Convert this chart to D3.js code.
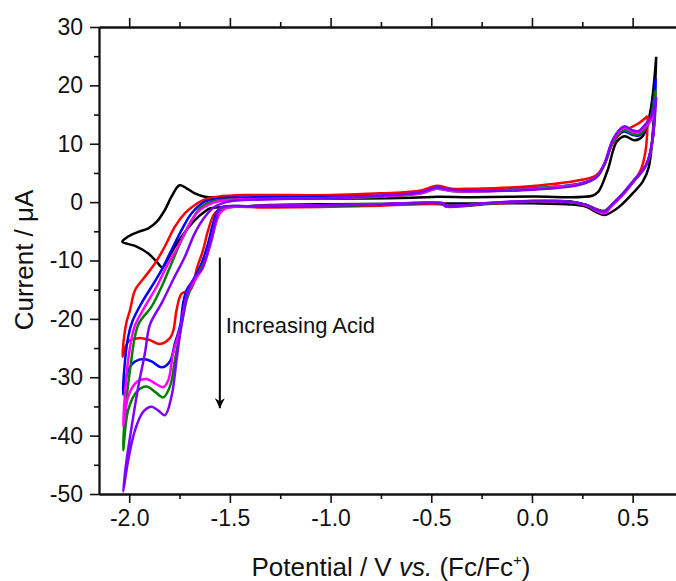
<!DOCTYPE html>
<html>
<head>
<meta charset="utf-8">
<script src="https://cdn.jsdelivr.net/npm/d3@7"></script>
<style>
  body { margin: 0; background: #fff; }
  svg { display: block; font-family: "Liberation Sans", Arial, sans-serif; }
</style>
</head>
<body>
<div id="chart"></div>
<script>
// potential (V vs Fc/Fc+) and current (uA), in scan order
var blackCV = [
  [0.617, 24.9], [0.60, 12], [0.58, 6], [0.55, 3.5], [0.50, 1.5], [0.44, -0.6], [0.40, -1.6], [0.36, -2.2],
  [0.32, -1.7], [0.27, -0.8], [0.20, -0.4], [0.0, -0.2], [-0.45, -0.25], [-1.0, -0.35], [-1.3, -0.5],
  [-1.475, -0.8], [-1.56, -0.9], [-1.6, -1.1], [-1.624, -1.6], [-1.674, -3.07], [-1.723, -5.1], [-1.773, -7.6],
  [-1.815, -10.2], [-1.835, -11.2], [-1.864, -10.2], [-1.905, -8.8], [-1.971, -7.5], [-2.034, -6.8],
  [-2.005, -5.9], [-1.955, -5.1], [-1.905, -4.5], [-1.864, -3.4], [-1.823, -1.35], [-1.79, 0.93], [-1.75, 2.9],
  [-1.715, 2.36], [-1.674, 1.5], [-1.624, 0.93], [-1.558, 0.8], [-1.2, 0.6], [-0.6, 0.75], [-0.47, 0.9],
  [-0.3, 0.85], [0.0, 0.95], [0.30, 1.1], [0.33, 1.8], [0.376, 5.5], [0.42, 10.3], [0.46, 11.3], [0.51, 10.6],
  [0.55, 11.3], [0.585, 15], [0.617, 24.9]
];
var redCV = [
  [0.575, 14.75], [0.565, 9], [0.54, 5.5], [0.50, 3.3], [0.45, 1.2], [0.40, -0.4], [0.36, -1.5], [0.32, -1.2],
  [0.27, -0.5], [0.19, 0.1], [0.0, 0.1], [-0.2, -0.3], [-0.43, -0.75], [-0.44, -0.45], [-0.75, -0.6],
  [-1.0, -0.8], [-1.327, -0.9], [-1.459, -0.8], [-1.525, -0.9], [-1.575, -1.9], [-1.608, -4.8], [-1.633, -8.2],
  [-1.666, -11.6], [-1.68, -13.9], [-1.699, -15.1], [-1.74, -15.7], [-1.765, -18.5], [-1.78, -21.9],
  [-1.798, -23.3], [-1.848, -24.3], [-1.90, -23.6], [-1.955, -23.3], [-2.005, -23.9], [-2.033, -26.5],
  [-2.025, -23], [-2.013, -20.5], [-1.996, -18.5], [-1.971, -15.1], [-1.922, -12.8], [-1.872, -10.5],
  [-1.823, -7.6], [-1.773, -4.2], [-1.723, -1.9], [-1.674, -0.5], [-1.624, 0.47], [-1.558, 0.93], [-1.426, 1.2],
  [-1.0, 1.2], [-0.75, 1.5], [-0.55, 2.0], [-0.475, 2.8], [-0.40, 2.3], [-0.30, 2.3], [-0.06, 2.6], [0.24, 3.8],
  [0.32, 4.6], [0.36, 6.5], [0.40, 10.0], [0.44, 11.8], [0.48, 12.6], [0.53, 13.5], [0.575, 14.75]
];
var blueCV = [
  [0.614, 21.2], [0.60, 11], [0.575, 7], [0.551, 5.4], [0.50, 3.4], [0.452, 1.4], [0.40, -0.4], [0.36, -1.6],
  [0.32, -1.3], [0.27, -0.5], [0.19, 0.1], [0.0, 0.2], [-0.2, -0.2], [-0.43, -0.6], [-0.44, -0.25],
  [-0.75, -0.4], [-1.0, -0.6], [-1.4, -0.7], [-1.533, -0.8], [-1.558, -1.3], [-1.583, -3.6], [-1.608, -7.0],
  [-1.641, -10.5], [-1.682, -13.3], [-1.715, -15.1], [-1.732, -17.3], [-1.746, -21], [-1.773, -24.2],
  [-1.798, -27.3], [-1.839, -28.3], [-1.889, -27.3], [-1.922, -26.9], [-1.971, -27.3], [-2.005, -28.8],
  [-2.03, -33.0], [-2.022, -27.6], [-2.005, -23.05], [-1.985, -20.5], [-1.939, -17.3], [-1.889, -14.5],
  [-1.839, -11.6], [-1.79, -8.2], [-1.74, -4.8], [-1.69, -1.9], [-1.624, 0.08], [-1.541, 0.65], [-1.426, 0.8],
  [-1.0, 0.9], [-0.75, 1.1], [-0.55, 1.6], [-0.475, 2.4], [-0.40, 2.0], [-0.30, 1.9], [-0.06, 2.2], [0.24, 3.2],
  [0.32, 4.3], [0.36, 6.5], [0.40, 10.2], [0.44, 11.9], [0.46, 12.1], [0.50, 11.5], [0.53, 11.4], [0.56, 12.3],
  [0.59, 14.5], [0.614, 21.2]
];
var greenCV = [
  [0.614, 19.2], [0.60, 11], [0.575, 7], [0.551, 5.5], [0.50, 3.5], [0.452, 1.5], [0.40, -0.3], [0.36, -1.5],
  [0.32, -1.2], [0.27, -0.5], [0.19, 0.0], [0.0, 0.15], [-0.2, -0.2], [-0.43, -0.6], [-0.44, -0.25],
  [-0.75, -0.45], [-1.0, -0.6], [-1.4, -0.7], [-1.541, -1.2], [-1.566, -3.1], [-1.591, -6.5], [-1.624, -9.9],
  [-1.657, -12.2], [-1.69, -14.5], [-1.715, -16.8], [-1.74, -21], [-1.773, -27.05], [-1.798, -31.6],
  [-1.831, -33.45], [-1.872, -32.5], [-1.914, -31.6], [-1.963, -32.5], [-2.005, -35.6], [-2.03, -42.5],
  [-2.02, -36.2], [-1.996, -28.8], [-1.955, -21], [-1.889, -17.9], [-1.839, -14.5], [-1.79, -10.5],
  [-1.74, -6.5], [-1.69, -3.1], [-1.641, -0.8], [-1.575, 0.25], [-1.475, 0.5], [-1.0, 0.6], [-0.75, 0.9],
  [-0.55, 1.5], [-0.475, 2.3], [-0.40, 1.9], [-0.30, 1.8], [-0.06, 2.2], [0.24, 3.1], [0.32, 4.2], [0.36, 6.4],
  [0.40, 10.2], [0.44, 12.0], [0.46, 12.3], [0.50, 11.7], [0.53, 11.6], [0.56, 12.5], [0.59, 14.5], [0.614, 19.2]
];
var magentaCV = [
  [0.61, 16.5], [0.60, 11], [0.575, 7], [0.551, 5.5], [0.50, 3.4], [0.452, 1.3], [0.40, -0.5], [0.36, -1.9],
  [0.32, -1.5], [0.27, -0.6], [0.19, 0.0], [0.0, 0.2], [-0.2, -0.1], [-0.43, -0.6], [-0.44, -0.2],
  [-0.75, -0.35], [-1.0, -0.5], [-1.4, -0.7], [-1.517, -1.0], [-1.55, -1.9], [-1.575, -4.2], [-1.6, -7.6],
  [-1.633, -11.1], [-1.674, -13.4], [-1.707, -15.4], [-1.727, -18.0], [-1.745, -21.5], [-1.782, -25.9],
  [-1.806, -30.5], [-1.831, -31.7], [-1.872, -31.05], [-1.914, -30.3], [-1.963, -30.8], [-2.005, -33.3],
  [-2.03, -38.5], [-2.022, -33.3], [-2.005, -27.05], [-1.975, -21.5], [-1.922, -17.9], [-1.864, -14.5],
  [-1.815, -11.1], [-1.757, -7.6], [-1.707, -4.2], [-1.657, -1.6], [-1.591, -0.2], [-1.508, 0.36],
  [-1.376, 0.5], [-1.0, 0.7], [-0.75, 1.0], [-0.55, 1.5], [-0.475, 2.3], [-0.40, 1.9], [-0.30, 1.8],
  [-0.06, 2.1], [0.24, 3.1], [0.32, 4.3], [0.36, 6.6], [0.40, 10.5], [0.44, 12.4], [0.46, 12.8], [0.50, 12.1],
  [0.53, 12.0], [0.56, 12.8], [0.59, 14.0], [0.61, 16.5]
];
var purpleCV = [
  [0.617, 18], [0.60, 11], [0.575, 7], [0.551, 5.5], [0.50, 3.5], [0.452, 1.5], [0.40, -0.3], [0.36, -1.6],
  [0.32, -1.3], [0.27, -0.5], [0.19, 0.0], [0.0, 0.2], [-0.2, -0.1], [-0.43, -0.6], [-0.44, -0.25],
  [-0.75, -0.4], [-1.0, -0.55], [-1.4, -0.7], [-1.55, -1.0], [-1.566, -2.5], [-1.583, -4.8], [-1.608, -8.2],
  [-1.641, -11.6], [-1.674, -12.8], [-1.707, -15.1], [-1.727, -18.5], [-1.745, -22], [-1.765, -27.05],
  [-1.79, -33.3], [-1.823, -36.5], [-1.856, -35.7], [-1.889, -35.05], [-1.93, -35.9], [-1.971, -39.05],
  [-2.005, -44.2], [-2.03, -49.6], [-2.013, -44.2], [-1.988, -38.5], [-1.955, -31.6], [-1.922, -25.9],
  [-1.897, -21], [-1.839, -17.3], [-1.782, -13.3], [-1.723, -9.3], [-1.674, -5.3], [-1.624, -2.5],
  [-1.575, -0.8], [-1.508, 0.08], [-1.426, 0.36], [-1.0, 0.7], [-0.75, 1.1], [-0.55, 1.7], [-0.475, 2.5],
  [-0.40, 2.1], [-0.30, 2.0], [-0.06, 2.0], [0.24, 3.0], [0.32, 4.3], [0.36, 6.6], [0.40, 10.6], [0.44, 12.6],
  [0.46, 13.0], [0.50, 12.3], [0.53, 12.2], [0.56, 13.2], [0.59, 14.5], [0.617, 18]
];

var seriesNames = ["black", "red", "blue", "green", "magenta", "purple"];
var seriesData = [blackCV, redCV, blueCV, greenCV, magentaCV, purpleCV];
var seriesColors = ["#000000", "#ff0000", "#0000ff", "#008000", "#ff00ff", "#8000ff"];

var xMajor = [-2.0, -1.5, -1.0, -0.5, 0.0, 0.5];
var xMinor = [-1.75, -1.25, -0.75, -0.25, 0.25];
var yMajor = [-50, -40, -30, -20, -10, 0, 10, 20, 30];
var yMinor = [-45, -35, -25, -15, -5, 5, 15, 25];

var W = 676, H = 581;
var margin = {left: 99, top: 27};
var plotRight = 683, plotBottom = 494;

var svg = d3.select("#chart").append("svg")
    .attr("width", W)
    .attr("height", H);

var x = d3.scaleLinear().domain([-2.15, 0.75]).range([margin.left, plotRight]);
var y = d3.scaleLinear().domain([-50, 30]).range([plotBottom, margin.top]);

// curves
var line = d3.line()
    .x(d => x(d[0]))
    .y(d => y(d[1]))
    .curve(d3.curveCatmullRom.alpha(0.5));

svg.append("g")
    .selectAll("path")
    .data(seriesData)
    .join("path")
    .attr("class", (d, i) => "cv " + seriesNames[i])
    .attr("d", line)
    .attr("fill", "none")
    .attr("stroke", (d, i) => seriesColors[i])
    .attr("stroke-width", 2.5)
    .attr("stroke-linejoin", "round");

// axes
function styleAxis(g) {
    g.selectAll(".domain").attr("stroke", "#111").attr("stroke-width", 1.8);
    g.selectAll(".tick line").attr("stroke", "#111").attr("stroke-width", 1.6);
    g.selectAll("text").attr("fill", "#111").style("font-size", "23px")
        .style("font-family", '"Liberation Sans", Arial, sans-serif');
}

var xBottom = svg.append("g")
    .attr("transform", "translate(0," + plotBottom + ")")
    .call(d3.axisBottom(x).tickValues(xMajor).tickSizeInner(9).tickSizeOuter(0).tickPadding(7)
        .tickFormat(d3.format(".1f")))
    .call(styleAxis);
xBottom.selectAll("text").text(d => d3.format(".1f")(d).replace("\u2212", "-"));

svg.append("g")
    .attr("transform", "translate(0," + plotBottom + ")")
    .call(d3.axisBottom(x).tickValues(xMinor).tickSizeInner(5).tickSizeOuter(0).tickFormat(""))
    .call(styleAxis);

svg.append("g")
    .attr("transform", "translate(0," + margin.top + ")")
    .call(d3.axisTop(x).tickValues(xMajor).tickSizeInner(9).tickSizeOuter(0).tickFormat(""))
    .call(styleAxis);

svg.append("g")
    .attr("transform", "translate(0," + margin.top + ")")
    .call(d3.axisTop(x).tickValues(xMinor).tickSizeInner(5).tickSizeOuter(0).tickFormat(""))
    .call(styleAxis);

var yLeft = svg.append("g")
    .attr("transform", "translate(" + margin.left + ",0)")
    .call(d3.axisLeft(y).tickValues(yMajor).tickSizeInner(9).tickSizeOuter(0).tickPadding(7))
    .call(styleAxis);
yLeft.selectAll("text").text(d => String(d));

svg.append("g")
    .attr("transform", "translate(" + margin.left + ",0)")
    .call(d3.axisLeft(y).tickValues(yMinor).tickSizeInner(5).tickSizeOuter(0).tickFormat(""))
    .call(styleAxis);

// axis titles
var xTitle = svg.append("text")
    .attr("x", 391)
    .attr("y", 576)
    .attr("text-anchor", "middle")
    .style("font-size", "26px")
    .attr("fill", "#111");
xTitle.append("tspan").text("Potential / V ");
xTitle.append("tspan").style("font-style", "italic").text("vs.");
xTitle.append("tspan").text(" (Fc/Fc");
xTitle.append("tspan").attr("dy", -11).style("font-size", "15px").text("+");
xTitle.append("tspan").attr("dy", 11).text(")");

svg.append("text")
    .attr("transform", "translate(33,260) rotate(-90)")
    .attr("text-anchor", "middle")
    .style("font-size", "26px")
    .attr("fill", "#111")
    .text("Current / \u03bcA");

// annotation arrow
svg.append("defs").append("marker")
    .attr("id", "arrowhead")
    .attr("viewBox", "0 0 10 10")
    .attr("refX", 10).attr("refY", 5)
    .attr("markerWidth", 11).attr("markerHeight", 10)
    .attr("markerUnits", "userSpaceOnUse")
    .attr("orient", "auto")
    .append("path")
    .attr("d", "M0,0 L10,5 L0,10 L3,5 Z")
    .attr("fill", "#000");

svg.append("line")
    .attr("x1", x(-1.55)).attr("y1", y(-9.5))
    .attr("x2", x(-1.55)).attr("y2", y(-35.3))
    .attr("stroke", "#000")
    .attr("stroke-width", 2)
    .attr("marker-end", "url(#arrowhead)");

svg.append("text")
    .attr("x", x(-1.52))
    .attr("y", y(-22.4))
    .style("font-size", "22px")
    .attr("fill", "#111")
    .text("Increasing Acid");
</script>
</body>
</html>
